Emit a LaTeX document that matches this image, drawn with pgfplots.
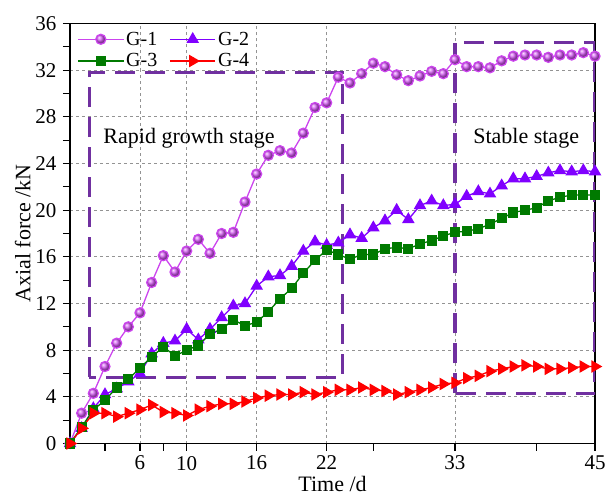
\documentclass[border=0pt]{standalone}
\usepackage{pgfplots}
\pgfplotsset{compat=1.18}
\usepackage{fontspec}
\setmainfont{Liberation Serif}
\definecolor{gone}{HTML}{CC44EE}
\definecolor{gtwo}{HTML}{8000FF}
\definecolor{gthree}{HTML}{007A00}
\definecolor{gfour}{HTML}{FF0000}
\definecolor{boxc}{HTML}{7030A0}
\begin{document}
\begin{tikzpicture}
\useasboundingbox (-70pt,-55.5pt) rectangle (538pt,443.5pt);
\begin{axis}[
  at={(0pt,0pt)}, anchor=south west,
  scale only axis, width=525pt, height=420pt,
  xmin=0, xmax=45, ymin=0, ymax=36,
  xtick={6,10,16,22,33,45}, minor xtick={3,8,26,40},
  ytick={0,4,...,36}, minor ytick={2,6,...,34},
  grid=major, major grid style={dashed, gray!85, line width=0.9pt},
  tick align=outside, tick pos=left,
  major tick length=7pt, minor tick length=7pt,
  every tick/.style={black, line width=1.2pt},
  axis line style={line width=1.5pt},
  /pgf/number format/assume math mode=true,
  tick label style={font=\fontsize{21}{24}\selectfont},
  yticklabel style={xshift=-3pt},
  xticklabel style={yshift=-2pt},
  label style={font=\fontsize{22}{24}\selectfont},
  xlabel={Time /d}, ylabel={Axial force /kN},
  xlabel style={yshift=1pt}, ylabel style={yshift=-2pt},
  legend columns=2,
  legend style={at={(0.008,0.99)}, anchor=north west, draw=none, fill=none,
    font=\fontsize{20}{22}\selectfont, row sep=3pt,
    /tikz/every even column/.append style={column sep=10pt}},
  legend image code/.code={\draw[mark repeat=2,mark phase=2] plot coordinates {(0cm,0cm) (0.8cm,0cm) (1.6cm,0cm)};},
]
\draw[boxc, line width=3pt, dash pattern=on 20pt off 10pt] (axis cs:1.65,5.7) rectangle (axis cs:23.4,31.8);
\draw[boxc, line width=3pt, dash pattern=on 20pt off 10pt] (axis cs:33.0,4.3) rectangle (axis cs:44.95,34.4);
\addplot[gone, line width=1.3pt, mark=ball, mark size=5pt, mark options={ball color=gone!90}] coordinates {
(0,0)(1,2.6)(2,4.3)(3,6.6)(4,8.6)(5,10.0)(6,11.2)(7,13.8)(8,16.1)(9,14.7)(10,16.5)
(11,17.5)(12,16.3)(13,18.0)(14,18.1)(15,20.7)(16,23.1)(17,24.7)(18,25.1)(19,24.9)(20,26.6)
(21,28.8)(22,29.2)(23,31.4)(24,30.9)(25,31.7)(26,32.6)(27,32.3)(28,31.6)(29,31.1)(30,31.5)
(31,31.9)(32,31.7)(33,32.9)(34,32.3)(35,32.3)(36,32.2)(37,32.8)(38,33.2)(39,33.3)(40,33.3)
(41,33.1)(42,33.3)(43,33.3)(44,33.5)(45,33.2)};
\addlegendentry{G-1}
\addplot[gtwo, line width=1.3pt, mark=triangle*, mark size=6pt] coordinates {
(0,0)(1,1.3)(2,3.0)(3,4.2)(4,4.7)(5,5.3)(6,6.0)(7,7.7)(8,8.6)(9,8.8)(10,9.8)
(11,8.9)(12,9.8)(13,10.8)(14,11.8)(15,12.0)(16,13.5)(17,14.3)(18,14.4)(19,15.2)(20,16.5)
(21,17.3)(22,17.0)(23,17.2)(24,17.9)(25,17.6)(26,18.5)(27,19.1)(28,20.0)(29,19.2)(30,20.4)
(31,20.8)(32,20.4)(33,20.5)(34,21.2)(35,21.6)(36,21.4)(37,22.1)(38,22.7)(39,22.7)(40,22.9)
(41,23.2)(42,23.4)(43,23.3)(44,23.4)(45,23.3)};
\addlegendentry{G-2}
\addplot[gthree, line width=1.3pt, mark=square*, mark size=4.5pt] coordinates {
(0,0)(1,1.4)(2,2.9)(3,3.7)(4,4.8)(5,5.5)(6,6.5)(7,7.4)(8,8.3)(9,7.5)(10,8.0)
(11,8.4)(12,9.4)(13,9.8)(14,10.6)(15,10.1)(16,10.4)(17,11.3)(18,12.4)(19,13.3)(20,14.6)
(21,15.7)(22,16.6)(23,16.2)(24,15.8)(25,16.2)(26,16.2)(27,16.7)(28,16.8)(29,16.7)(30,17.1)
(31,17.4)(32,17.8)(33,18.1)(34,18.2)(35,18.4)(36,18.8)(37,19.3)(38,19.8)(39,20.0)(40,20.2)
(41,20.8)(42,21.1)(43,21.3)(44,21.3)(45,21.3)};
\addlegendentry{G-3}
\addplot[gfour, line width=1.3pt, mark=triangle*, mark size=6pt, mark options={rotate=-90}] coordinates {
(0,0)(1,1.3)(2,2.6)(3,2.6)(4,2.3)(5,2.6)(6,2.9)(7,3.3)(8,2.7)(9,2.6)(10,2.4)
(11,2.9)(12,3.2)(13,3.4)(14,3.4)(15,3.6)(16,3.9)(17,4.1)(18,4.2)(19,4.2)(20,4.4)
(21,4.2)(22,4.4)(23,4.6)(24,4.6)(25,4.8)(26,4.6)(27,4.5)(28,4.2)(29,4.4)(30,4.6)
(31,4.8)(32,5.1)(33,5.2)(34,5.6)(35,5.8)(36,6.2)(37,6.4)(38,6.6)(39,6.7)(40,6.6)
(41,6.4)(42,6.4)(43,6.5)(44,6.6)(45,6.6)};
\addlegendentry{G-4}
\node[font=\fontsize{22}{24}\selectfont] at (axis cs:10.2,26.2) {Rapid growth stage};
\node[font=\fontsize{22}{24}\selectfont] at (axis cs:39.1,26.2) {Stable stage};
\end{axis}
\end{tikzpicture}
\end{document}
